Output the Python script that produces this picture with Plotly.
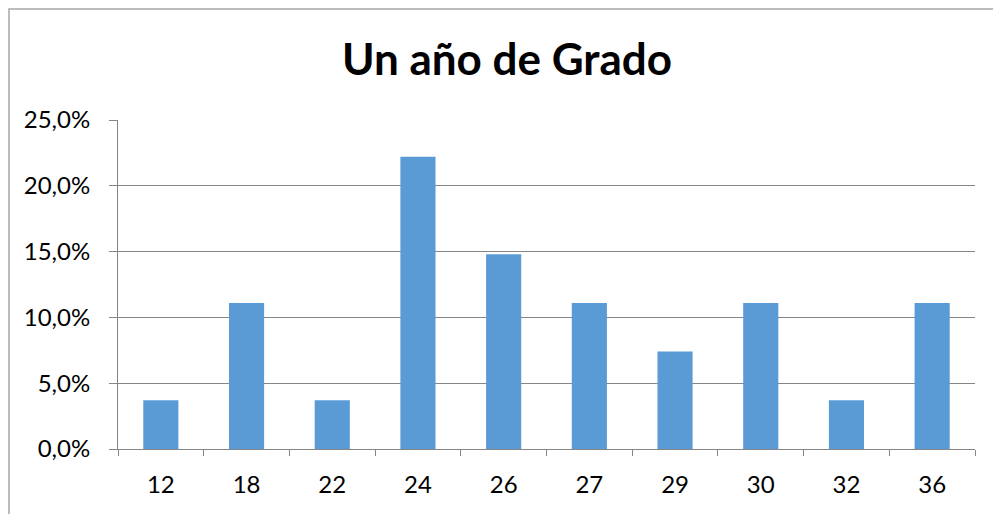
import plotly.graph_objects as go

categories = ["12", "18", "22", "24", "26", "27", "29", "30", "32", "36"]
values = [3.7, 11.1, 3.7, 22.2, 14.8, 11.1, 7.4, 11.1, 3.7, 11.1]
y_ticks = [0, 5, 10, 15, 20, 25]
y_labels = ["0,0%", "5,0%", "10,0%", "15,0%", "20,0%", "25,0%"]

fig = go.Figure(go.Bar(x=categories, y=values, marker_color="#5B9BD5", marker_line_width=0))

# page body has an 8px margin, so the figure is offset by 8px
fig.update_layout(
    width=993, height=506,
    margin=dict(l=110, r=26, t=112, b=65),
    paper_bgcolor="white", plot_bgcolor="white",
    bargap=0.59,
    showlegend=False,
    font=dict(family="Lato, Liberation Sans, sans-serif", color="black"),
    title=dict(text="<b>Un año de Grado</b>", x=499/993, xanchor="center", xref="container",
               y=1 - 52/506, yanchor="middle", yref="container",
               font=dict(size=44, family="Lato, sans-serif", color="black")),
    shapes=[dict(type="rect", xref="paper", yref="paper", x0=(9-118)/857, x1=1.2,
                 y0=-0.5, y1=(449-9)/329, line=dict(color="#A6A6A6", width=1.5), layer="below")],
)
fig.update_xaxes(type="category", tickson="boundaries", ticks="outside", ticklen=6,
                 tickcolor="#868686", showline=True, linecolor="#868686", linewidth=1,
                 tickfont=dict(size=24), showgrid=False, ticklabelstandoff=14)
fig.update_yaxes(range=[0, 25], tickvals=y_ticks, ticktext=y_labels, ticks="outside", ticklen=8,
                 tickcolor="#868686", showline=True, linecolor="#868686", linewidth=1,
                 showgrid=True, gridcolor="#868686", gridwidth=1, zeroline=False,
                 tickfont=dict(size=24), ticklabelstandoff=14)

fig.write_html("out.html")
